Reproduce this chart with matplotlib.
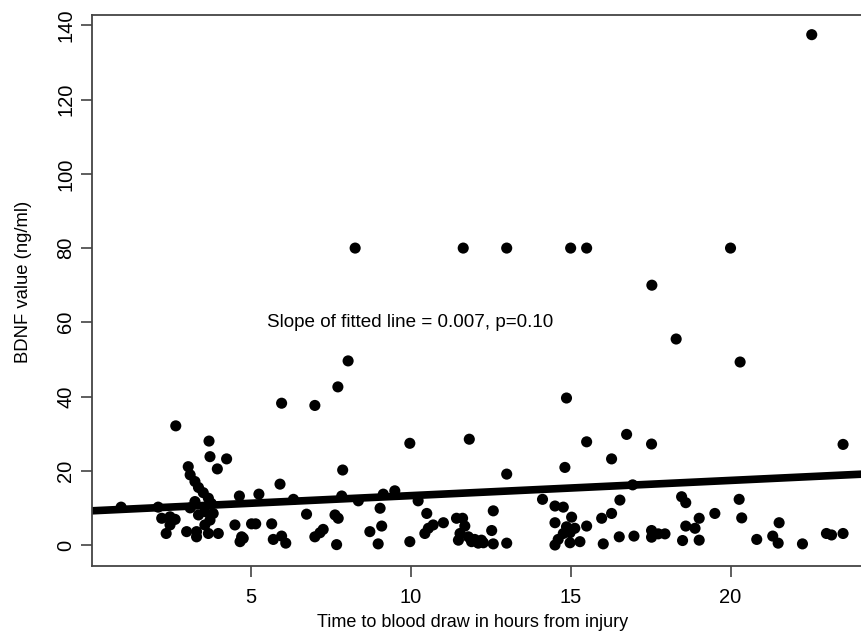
import numpy as np
import matplotlib
matplotlib.use('Agg')
import matplotlib.pyplot as plt

#hours from injury to blood draw
x_hours = [22.54, 8.26, 11.64, 13.0, 15.0, 15.5, 20.0, 17.54, 18.3, 8.04, 20.3, 7.72, 14.87, 5.96, 7.0, 2.65,
           3.69, 3.72, 4.24, 3.95, 3.04, 3.1, 3.25, 3.36, 3.51, 3.67, 3.25, 3.76, 4.64, 5.25, 5.91, 0.94, 2.1,
           2.21, 2.47, 2.63, 2.47, 2.35, 2.99, 3.3, 3.3, 3.67, 3.98, 3.36, 3.56, 3.82, 3.72, 3.56, 4.5, 4.71,
           4.66, 5.02, 5.15, 5.65, 5.7, 5.96, 6.09, 3.1, 4.76,
           9.97, 11.83, 7.87, 6.33, 7.84, 8.36, 9.14, 9.5, 10.23, 6.74, 7.63, 7.73, 9.04, 7.26, 7.16, 7.0,
           7.68, 8.72, 9.09, 8.98, 9.97, 10.5, 10.55, 10.44, 10.7, 11.02, 11.43, 11.62, 11.69, 11.54, 11.49,
           11.8, 11.9, 12.11,
           13.0, 15.5, 16.75, 17.53, 16.28, 14.82, 16.94, 14.12, 14.51, 14.77, 16.54, 16.28, 15.97, 15.03,
           14.51, 14.87, 15.13, 15.5, 14.98, 14.77, 14.61, 14.51, 14.98, 15.29, 16.02, 16.52, 16.98, 17.53,
           17.53, 17.74, 17.95, 12.58, 12.53, 12.0, 12.27, 12.58, 13.0, 12.21,
           23.52, 18.47, 18.6, 20.27, 19.51, 20.35, 19.02, 18.6, 18.89, 18.5, 19.02, 20.82, 21.32, 21.49,
           21.52, 22.25, 23.0, 23.16, 23.52]

#BDNF values (ng/ml)
bdnf = [137.5, 80, 80, 80, 80, 80, 80, 70, 55.5, 49.6, 49.3, 42.6, 39.6, 38.2, 37.6, 32.1,
        28.0, 23.8, 23.2, 20.5, 21.1, 18.9, 17.1, 15.5, 14.1, 12.6, 11.7, 11.2, 13.2, 13.7, 16.4, 10.2, 10.2,
        7.2, 7.6, 6.9, 5.4, 3.1, 3.6, 3.6, 2.2, 3.1, 3.1, 8.1, 9.0, 8.5, 6.7, 5.4, 5.4, 2.2,
        0.9, 5.7, 5.7, 5.7, 1.5, 2.4, 0.5, 10.0, 1.8,
        27.4, 28.5, 20.2, 12.3, 13.2, 11.9, 13.7, 14.6, 11.9, 8.3, 8.1, 7.2, 9.9, 4.2, 3.3, 2.2,
        0.1, 3.6, 5.1, 0.3, 0.9, 8.5, 4.5, 3.1, 5.4, 6.0, 7.2, 7.2, 5.1, 3.1, 1.3,
        2.2, 0.9, 0.5,
        19.1, 27.8, 29.8, 27.2, 23.2, 20.9, 16.2, 12.3, 10.5, 10.2, 12.1, 8.5, 7.2, 7.5,
        6.0, 4.9, 4.5, 5.1, 3.3, 3.1, 1.5, 0.0, 0.6, 0.9, 0.3, 2.2, 2.4, 3.9,
        2.1, 3.0, 3.0, 9.2, 3.9, 1.5, 0.6, 0.3, 0.5, 1.3,
        27.1, 13.0, 11.4, 12.3, 8.5, 7.3, 7.2, 5.1, 4.5, 1.2, 1.3, 1.5, 2.4, 0.5,
        6.0, 0.3, 3.1, 2.7, 3.1]

#fitted line
fit_intercept = 9.2
fit_slope = 0.41

x_ticks = [5, 10, 15, 20]
y_ticks = [0, 20, 40, 60, 80, 100, 120, 140]

plt.rcParams['font.family'] = ['Liberation Sans', 'DejaVu Sans']

fig = plt.figure(figsize=(8.62, 6.39), dpi=100)
#axes run past the right edge like the original crop
ax = fig.add_axes([92/862, 73/639, 792/862, 551/639])

ax.scatter(x_hours, bdnf, s=64, c='black', edgecolors='none', zorder=3)

xx = np.array([0.03, 24.8])
ax.plot(xx, fit_intercept + fit_slope*xx, color='black', lw=5.5, solid_capstyle='butt', zorder=2)

ax.text(5.5, 60, 'Slope of fitted line = 0.007, p=0.10', fontsize=13.6, ha='left', va='center')

ax.set_xlim(0.03, 24.8)
ax.set_ylim(-5.66, 142.8)
ax.set_xticks(x_ticks)
ax.set_yticks(y_ticks)
ax.set_yticklabels([str(v) for v in y_ticks], rotation=90, va='center')
ax.tick_params(direction='out', length=8, width=1.1, color='#333333', labelsize=14.5)
ax.tick_params(axis='x', pad=8)
ax.tick_params(axis='y', pad=4)

for s in ax.spines.values():
    s.set_color('#444444')
    s.set_linewidth(1.3)

ax.set_xlabel('Time to blood draw in hours from injury', fontsize=13)
ax.set_ylabel('BDNF value (ng/ml)', fontsize=13.3)
ax.xaxis.set_label_coords(0.481, -0.103)
ax.xaxis.label.set_va('center')
ax.yaxis.set_label_coords(-0.086, 0.515)
ax.yaxis.label.set_va('center')

fig.savefig('out.png', dpi=100)
